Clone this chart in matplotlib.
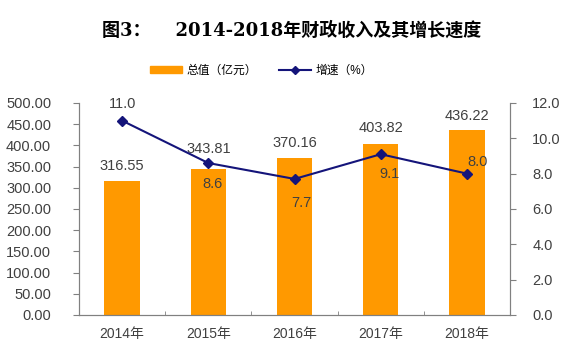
import numpy as np
import matplotlib
matplotlib.use('Agg')
import matplotlib.pyplot as plt
from matplotlib.patches import Patch
from matplotlib.lines import Line2D

plt.rcParams['font.family'] = ['Liberation Sans', 'Noto Sans CJK SC', 'DejaVu Sans']

years = ['2014年', '2015年', '2016年', '2017年', '2018年']
totals = [316.55, 343.81, 370.16, 403.82, 436.22]
growth = [11.0, 8.6, 7.7, 9.1, 8.0]

bar_color = '#FF9900'
line_color = '#14147A'
text_color = '#404040'
spine_color = '#808080'

fig = plt.figure(figsize=(5.83, 3.62), dpi=100)
ax = fig.add_axes([0.1355, 0.13, 0.7395, 0.5855])
x = np.arange(len(years))

ax.bar(x, totals, width=0.41, color=bar_color, zorder=2)
ax.set_ylim(0, 500)
ax.set_yticks(np.arange(0, 501, 50))
ax.set_yticklabels([f'{v:.2f}' for v in np.arange(0, 501, 50)])
ax.set_xlim(-0.5, len(years) - 0.5)
ax.set_xticks(x)
ax.set_xticklabels(years)
ax.set_xticks(x[:-1] + 0.5, minor=True)
bar_off = [35, 47, 35, 36, 34]
for i, v in enumerate(totals):
    ax.text(x[i], v + bar_off[i], f'{v:.2f}', ha='center', va='center', fontsize=10.5, color=text_color)

ax2 = ax.twinx()
ax2.plot(x, growth, color=line_color, lw=1.5, marker='D', ms=5, zorder=3)
ax2.set_ylim(0, 12)
ax2.set_yticks(np.arange(0, 12.1, 2))
ax2.set_yticklabels([f'{v:.1f}' for v in np.arange(0, 12.1, 2)])
# label offsets (dx in categories, dy in %)
offsets = [(0.0, 0.95), (0.05, -1.2), (0.08, -1.35), (0.1, -1.1), (0.12, 0.68)]
for i, v in enumerate(growth):
    dx, dy = offsets[i]
    ax2.text(x[i] + dx, v + dy, f'{v:.1f}', ha='center', va='center', fontsize=10.5, color=text_color)

for a in (ax, ax2):
    a.spines['top'].set_visible(False)
    for s in ('left', 'right', 'bottom'):
        a.spines[s].set_color(spine_color)
    a.tick_params(axis='y', colors=text_color, labelsize=10.5, length=4, direction='out')
    a.tick_params(axis='y', color=spine_color)
ax.tick_params(axis='x', which='major', length=0, pad=9, labelsize=10, colors=text_color)
ax.tick_params(axis='x', which='minor', length=3, direction='in', color=spine_color)
ax.tick_params(axis='y', pad=16)
ax2.tick_params(axis='y', pad=12)

fig.text(0.5, 0.915, '图3：    2014-2018年财政收入及其增长速度', ha='center', va='center',
         fontsize=13, fontweight='bold', family=['DejaVu Serif', 'Noto Sans CJK SC'])

handles = [Patch(color=bar_color), Line2D([], [], color=line_color, marker='D', ms=4, lw=1.5)]
fig.legend(handles, ['总值（亿元）', '增速（%）'], loc='center', bbox_to_anchor=(0.4485, 0.805),
           ncol=2, frameon=False, fontsize=8.5, handlelength=2.7, handleheight=0.5,
           columnspacing=1.9, handletextpad=0.4)

fig.savefig('out.png', dpi=100)
